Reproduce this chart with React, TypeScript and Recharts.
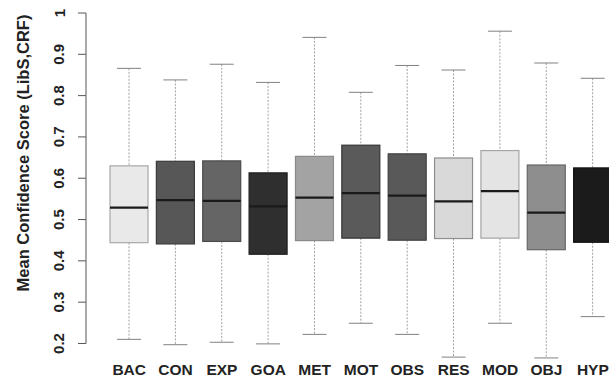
import React from "react";
import { ComposedChart, Bar, XAxis, YAxis } from "recharts";

const categories = ["BAC", "CON", "EXP", "GOA", "MET", "MOT", "OBS", "RES", "MOD", "OBJ", "HYP"];
const whiskerLow = [0.21, 0.197, 0.203, 0.199, 0.222, 0.249, 0.222, 0.167, 0.249, 0.165, 0.265];
const quartile1 = [0.444, 0.441, 0.447, 0.416, 0.449, 0.455, 0.45, 0.454, 0.455, 0.427, 0.445];
const medians = [0.529, 0.547, 0.545, 0.532, 0.553, 0.564, 0.558, 0.544, 0.569, 0.517, 0.535];
const quartile3 = [0.63, 0.641, 0.642, 0.613, 0.653, 0.68, 0.659, 0.649, 0.667, 0.632, 0.625];
const whiskerHigh = [0.866, 0.838, 0.876, 0.832, 0.941, 0.808, 0.873, 0.862, 0.956, 0.879, 0.842];
const yTicks = [0.2, 0.3, 0.4, 0.5, 0.6, 0.7, 0.8, 0.9, 1];

// box colours, same order as categories
const boxFill = ["#e9e9e9", "#575757", "#656565", "#2f2f2f", "#a3a3a3", "#5a5a5a", "#595959", "#d9d9d9", "#e4e4e4", "#8e8e8e", "#1b1b1b"];
const boxStroke = ["#a8a8a8", "#3a3a3a", "#4a4a4a", "#1e1e1e", "#8a8a8a", "#333333", "#404040", "#8e8e8e", "#a5a5a5", "#666666", "#111111"];

const W = 616;
const H = 381;
const TOP = 13;
const XAXIS_H = 21;
const Y_MIN = 0.16;
const Y_MAX = 1;
const PX_PER_UNIT = (H - TOP - XAXIS_H) / (Y_MAX - Y_MIN);

const rows = categories.map((cat, i) => ({
  cat,
  low: whiskerLow[i],
  q1: quartile1[i],
  med: medians[i],
  q3: quartile3[i],
  high: whiskerHigh[i],
  idx: i,
}));

function BoxShape(props: any) {
  const { x, y, width, height, payload } = props;
  const { low, q1, med, q3, high, idx } = payload;
  const top = Math.min(y, y + height);
  const span = Math.abs(height);
  const py = (v: number) => top + ((high - v) / (high - low)) * span;
  const cx = x + width / 2;
  const cap = 12;
  return (
    <g>
      <line x1={cx} x2={cx} y1={py(high)} y2={py(q3)} stroke="#a0a0a0" strokeDasharray="2 1.5" />
      <line x1={cx} x2={cx} y1={py(q1)} y2={py(low)} stroke="#a0a0a0" strokeDasharray="2 1.5" />
      <line x1={cx - cap} x2={cx + cap} y1={py(high)} y2={py(high)} stroke="#808080" />
      <line x1={cx - cap} x2={cx + cap} y1={py(low)} y2={py(low)} stroke="#808080" />
      <rect
        x={x}
        y={py(q3)}
        width={width}
        height={py(q1) - py(q3)}
        fill={boxFill[idx]}
        stroke={boxStroke[idx]}
        strokeWidth={1.2}
      />
      <line x1={x} x2={x + width} y1={py(med)} y2={py(med)} stroke="#1a1a1a" strokeWidth={2.2} />
    </g>
  );
}

function YTick(props: any) {
  const { x, y, payload } = props;
  const v = payload.value;
  const lx = x - 47;
  return (
    <g>
      {v < 1 && <line x1={x - 20} x2={x - 20} y1={y} y2={y - 0.1 * PX_PER_UNIT} stroke="#555" />}
      <line x1={x - 28} x2={x - 20} y1={y} y2={y} stroke="#555" />
      <text
        x={lx}
        y={y}
        transform={`rotate(-90 ${lx} ${y})`}
        textAnchor="middle"
        dominantBaseline="central"
        fontSize={15}
        fontWeight="bold"
        fill="#222"
      >
        {String(v)}
      </text>
    </g>
  );
}

const renderTitle = () => (
  <text
    x={23}
    y={153}
    transform="rotate(-90 23 153)"
    textAnchor="middle"
    dominantBaseline="central"
    fontSize={16.5}
    fontWeight="bold"
    fill="#222"
  >
    Mean Confidence Score (LibS,CRF)
  </text>
);

export default function App() {
  return (
    <div
      style={{
        position: "absolute",
        left: 0,
        top: 0,
        width: 609,
        height: 381,
        overflow: "hidden",
        background: "#fff",
        fontFamily: "'Liberation Sans', Arial, sans-serif",
      }}
    >
      <ComposedChart width={W} height={H} data={rows} margin={{ top: TOP, right: 0, bottom: 0, left: 0 }}>
        <XAxis
          dataKey="cat"
          interval={0}
          height={XAXIS_H}
          axisLine={false}
          tickLine={false}
          tickSize={0}
          tickMargin={4}
          tick={{ fontSize: 15.5, fontWeight: "bold", fill: "#222" }}
        />
        <YAxis
          type="number"
          width={106}
          domain={[Y_MIN, Y_MAX]}
          allowDataOverflow
          ticks={yTicks}
          interval={0}
          axisLine={false}
          tickLine={false}
          tickSize={0}
          tickMargin={0}
          tick={<YTick />}
          label={renderTitle}
        />
        <Bar
          dataKey={(d: any) => [d.low, d.high]}
          barSize={38}
          shape={<BoxShape />}
          activeBar={false}
          isAnimationActive={false}
        />
      </ComposedChart>
    </div>
  );
}
